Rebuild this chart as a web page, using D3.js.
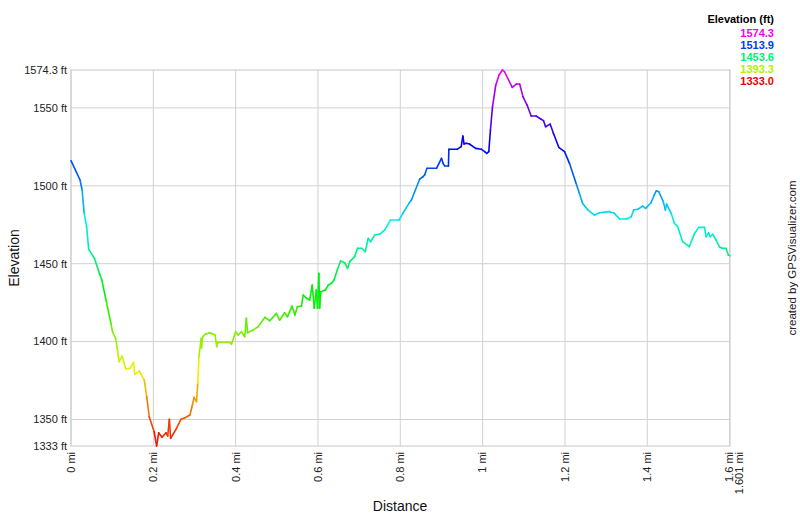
<!DOCTYPE html>
<html>
<head>
<meta charset="utf-8">
<script src="https://cdn.jsdelivr.net/npm/d3@7"></script>
<style>
  html, body { margin: 0; padding: 0; background: #fff; }
  svg { display: block; font-family: Arial, "Liberation Sans", sans-serif; }
</style>
</head>
<body>
<svg id="chart" width="800" height="517"></svg>
<script>
// ---- data ----
const distanceMi = [
  0.000, 0.022, 0.027, 0.032, 0.038, 0.043, 0.057, 0.069, 0.075, 0.085,
  0.097, 0.101, 0.109, 0.113, 0.117, 0.124, 0.133, 0.143, 0.152, 0.155,
  0.166, 0.178, 0.184, 0.190, 0.202, 0.208, 0.213, 0.221, 0.231, 0.235,
  0.239, 0.242, 0.255, 0.267, 0.277, 0.289, 0.295, 0.299, 0.305, 0.308,
  0.311, 0.316, 0.317, 0.320, 0.326, 0.337, 0.350, 0.354, 0.356, 0.386,
  0.390, 0.400, 0.406, 0.414, 0.422, 0.426, 0.429, 0.442, 0.455, 0.471,
  0.483, 0.499, 0.507, 0.519, 0.526, 0.537, 0.544, 0.550, 0.560, 0.564,
  0.572, 0.580, 0.586, 0.591, 0.596, 0.599, 0.602, 0.604, 0.607, 0.618,
  0.625, 0.633, 0.639, 0.647, 0.655, 0.665, 0.672, 0.677, 0.689, 0.696,
  0.706, 0.715, 0.722, 0.728, 0.738, 0.750, 0.762, 0.776, 0.797, 0.807,
  0.821, 0.827, 0.847, 0.855, 0.859, 0.865, 0.888, 0.900, 0.904, 0.908,
  0.917, 0.918, 0.938, 0.948, 0.952, 0.955, 0.960, 0.968, 0.983, 0.997,
  1.005, 1.010, 1.015, 1.019, 1.024, 1.032, 1.040, 1.048, 1.053, 1.061,
  1.072, 1.082, 1.090, 1.098, 1.108, 1.118, 1.130, 1.142, 1.148, 1.153,
  1.164, 1.172, 1.185, 1.199, 1.211, 1.227, 1.235, 1.243, 1.256, 1.272,
  1.284, 1.308, 1.320, 1.333, 1.350, 1.361, 1.367, 1.377, 1.389, 1.396,
  1.409, 1.417, 1.422, 1.428, 1.439, 1.444, 1.447, 1.458, 1.466, 1.474,
  1.486, 1.502, 1.515, 1.525, 1.539, 1.543, 1.549, 1.553, 1.559, 1.567,
  1.575, 1.582, 1.591, 1.597, 1.601
];
const elevationFt = [
  1516.1, 1503.7, 1497.3, 1482.3, 1473.7, 1459.2, 1453.4, 1443.8, 1439.5, 1426.7,
  1411.7, 1406.3, 1401.5, 1394.6, 1387.1, 1390.7, 1382.4, 1382.8, 1386.7, 1379.0,
  1381.1, 1375.3, 1364.6, 1351.8, 1342.2, 1333.0, 1341.5, 1338.6, 1341.5, 1339.4,
  1350.1, 1337.9, 1343.7, 1350.1, 1351.1, 1352.9, 1359.3, 1364.2, 1361.4, 1373.2,
  1390.3, 1402.1, 1395.9, 1403.1, 1404.7, 1405.7, 1404.2, 1396.7, 1399.5, 1399.5,
  1398.4, 1406.3, 1404.2, 1406.3, 1403.1, 1414.9, 1405.7, 1407.4, 1409.6, 1415.6,
  1413.4, 1418.1, 1413.8, 1418.5, 1416.0, 1422.8, 1417.1, 1422.4, 1422.8, 1429.9,
  1427.8, 1426.7, 1436.3, 1421.4, 1433.1, 1421.4, 1443.8, 1421.4, 1432.0, 1433.1,
  1436.3, 1437.4, 1439.5, 1445.9, 1451.7, 1450.6, 1447.0, 1451.3, 1454.5, 1459.9,
  1459.9, 1457.7, 1466.3, 1464.1, 1468.4, 1469.0, 1471.6, 1478.0, 1478.0, 1482.7,
  1488.7, 1490.9, 1504.2, 1505.8, 1506.9, 1511.2, 1511.2, 1517.6, 1514.4, 1512.7,
  1512.7, 1523.4, 1523.4, 1525.1, 1531.9, 1526.8, 1527.3, 1526.8, 1524.0, 1523.4,
  1521.9, 1520.8, 1521.9, 1535.8, 1550.7, 1564.7, 1571.1, 1574.3, 1573.2, 1569.0,
  1563.2, 1565.3, 1565.3, 1557.2, 1551.8, 1544.8, 1544.8, 1542.7, 1541.8, 1537.9,
  1539.6, 1533.7, 1524.7, 1521.9, 1514.4, 1501.6, 1495.2, 1488.7, 1484.4, 1481.2,
  1482.7, 1483.4, 1482.3, 1478.7, 1478.7, 1480.1, 1484.4, 1484.9, 1487.0, 1485.5,
  1489.1, 1494.1, 1496.8, 1496.2, 1489.8, 1484.4, 1488.3, 1482.3, 1475.9, 1473.7,
  1464.1, 1460.9, 1469.5, 1473.3, 1473.3, 1467.3, 1469.9, 1467.3, 1468.9, 1465.2,
  1460.9, 1459.9, 1459.9, 1455.6, 1455.0
];
const yTickValues = [1550, 1500, 1450, 1400, 1350];
const yEndLabels = ["1574.3 ft", "1333 ft"];
const xTickValues = [0, 0.2, 0.4, 0.6, 0.8, 1, 1.2, 1.4, 1.6];
const xTickLabels = ["0 mi", "0.2 mi", "0.4 mi", "0.6 mi", "0.8 mi", "1 mi", "1.2 mi", "1.4 mi", "1.6 mi"];
const xEndLabel = "1.601 mi";
const legendTitle = "Elevation (ft)";
const legendValues = [1574.3, 1513.9, 1453.6, 1393.3, 1333.0];
const elevMin = 1333.0, elevMax = 1574.3, distMax = 1.601;

// ---- layout ----
const svg = d3.select("#chart");
const pL = 71, pR = 730, pT = 70, pB = 446;
const x = d3.scaleLinear().domain([0, distMax]).range([pL, pR]);
const y = d3.scaleLinear().domain([elevMin, elevMax]).range([pB, pT]);
const hue = d3.scaleLinear().domain([elevMin, elevMax]).range([0, 300]);
const colorFor = (e, l) => d3.hsl(hue(e), 1, l).formatHex();

const grid = "#d0d0d0";
// horizontal grid
svg.append("g").selectAll("line").data(yTickValues).join("line")
  .attr("x1", pL).attr("x2", pR)
  .attr("y1", d => y(d)).attr("y2", d => y(d))
  .attr("stroke", grid).attr("stroke-width", 1);
// vertical grid
svg.append("g").selectAll("line").data(xTickValues).join("line")
  .attr("x1", d => x(d)).attr("x2", d => x(d))
  .attr("y1", pT).attr("y2", pB)
  .attr("stroke", grid).attr("stroke-width", 1);
// frame
svg.append("rect").attr("x", pL).attr("y", pT)
  .attr("width", pR - pL).attr("height", pB - pT)
  .attr("fill", "none").attr("stroke", grid).attr("stroke-width", 1.2);

// y tick labels
const yLab = svg.append("g").attr("font-size", 11).attr("fill", "#222").attr("text-anchor", "end");
yLab.selectAll("text.t").data(yTickValues).join("text").attr("class", "t")
  .attr("x", pL - 4).attr("y", d => y(d)).attr("dy", "0.35em")
  .text(d => d + " ft");
yLab.append("text").attr("x", pL - 4).attr("y", y(elevMax)).attr("dy", "0.35em").text(yEndLabels[0]);
yLab.append("text").attr("x", pL - 4).attr("y", y(elevMin)).attr("dy", "0.35em").text(yEndLabels[1]);

// x tick labels (rotated)
const xLab = svg.append("g").attr("font-size", 11).attr("fill", "#222").attr("text-anchor", "end");
xLab.selectAll("text").data(xTickValues).join("text")
  .attr("transform", d => `translate(${x(d)},${pB + 6}) rotate(-90)`)
  .attr("dy", "0.35em")
  .text((d, i) => xTickLabels[i]);
xLab.append("text")
  .attr("transform", `translate(${x(distMax) + 9},${pB + 6}) rotate(-90)`)
  .attr("dy", "0.35em").text(xEndLabel);

// axis titles
svg.append("text").attr("x", 400).attr("y", 511).attr("text-anchor", "middle")
  .attr("font-size", 14).attr("fill", "#111").text("Distance");
svg.append("text").attr("transform", `translate(19,258) rotate(-90)`).attr("text-anchor", "middle")
  .attr("font-size", 14).attr("fill", "#111").text("Elevation");
svg.append("text").attr("transform", `translate(796,258) rotate(-90)`).attr("text-anchor", "middle")
  .attr("font-size", 11.5).attr("fill", "#222").text("created by GPSVisualizer.com");

// legend
const lg = svg.append("g").attr("text-anchor", "end").attr("font-weight", "bold").attr("font-size", 11);
lg.append("text").attr("x", 774).attr("y", 23).attr("fill", "#000").text(legendTitle);
lg.selectAll("text.v").data(legendValues).join("text").attr("class", "v")
  .attr("x", 774).attr("y", (d, i) => 37 + i * 12)
  .attr("fill", d => colorFor(d, 0.47))
  .text(d => d.toFixed(1));

// profile line, colored by elevation
const pts = distanceMi.map((d, i) => [d, elevationFt[i]]);
const segs = d3.pairs(pts);
svg.append("g").attr("fill", "none").attr("stroke-width", 1.6).attr("stroke-linecap", "round")
  .selectAll("line").data(segs).join("line")
  .attr("x1", s => x(s[0][0])).attr("y1", s => y(s[0][1]))
  .attr("x2", s => x(s[1][0])).attr("y2", s => y(s[1][1]))
  .attr("stroke", s => colorFor((s[0][1] + s[1][1]) / 2, 0.47));
</script>
</body>
</html>
